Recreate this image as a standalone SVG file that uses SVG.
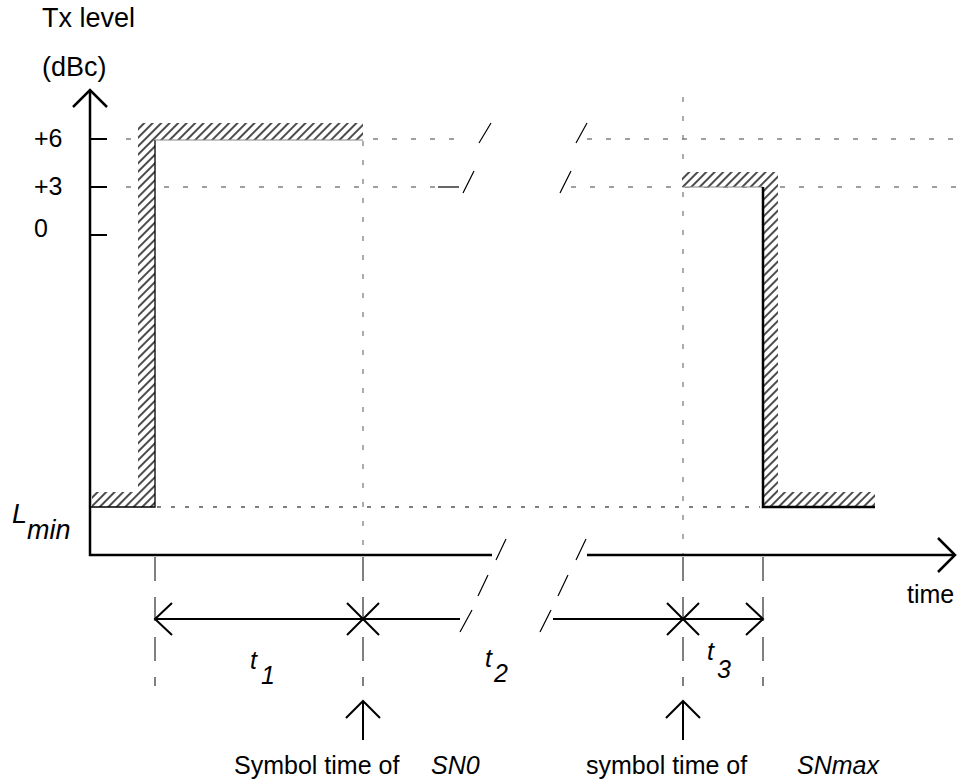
<svg xmlns="http://www.w3.org/2000/svg" width="962" height="782" viewBox="0 0 962 782">
<style>
text{font-family:"Liberation Sans",Arial,Helvetica,sans-serif;fill:#000}
.lbl{font-size:25px}
.big{font-size:27px}
.it{font-style:italic}
.axis{stroke:#000;stroke-width:2.5;fill:none}
.tick{stroke:#000;stroke-width:2;fill:none}
.arr{stroke:#000;stroke-width:2;fill:none}
.slash{stroke:#000;stroke-width:1.2;fill:none}
.guide{stroke:#808080;stroke-width:1.3;stroke-dasharray:5 14;fill:none}
.lmin{stroke:#000;stroke-width:1.1;stroke-dasharray:4 10;fill:none}
.drop{stroke:#000;stroke-width:1;stroke-dasharray:24 16;fill:none}
.edge{stroke:#000;stroke-width:1.3;fill:none}
.edgeg{stroke:#888;stroke-width:1.2;fill:none}
.edgeb{stroke:#000;stroke-width:2.5;fill:none}
</style>
<defs>
<pattern id="hatch" patternUnits="userSpaceOnUse" width="6" height="6" patternTransform="rotate(45)">
<rect width="6" height="6" fill="#fff"/>
<line x1="3" y1="0" x2="3" y2="6" stroke="#000" stroke-width="1.4"/>
</pattern>
</defs>

<g id="guides">
<path class="guide" d="M126,139 H462"/>
<path class="guide" d="M587,139 H962"/>
<path class="guide" d="M126,187 H438"/>
<path class="guide" d="M571,187 H962"/>
<path class="guide" d="M363,141 V555"/>
<path class="guide" d="M683,97 V555"/>
<path class="lmin" d="M157,507 H760"/>
<path class="drop" d="M155,557 V686"/>
<path class="drop" d="M363,557 V686"/>
<path class="drop" d="M683,557 V686"/>
<path class="drop" d="M763,557 V686"/>
<path class="slash" d="M438,187 H459"/>
<path class="slash" d="M479,143 L491,123 M576,143 L587,123 M463,193 L474,171 M560,193 L571,171"/>
</g>

<g id="mask-start">
<path d="M138,123 H363 V140 H155 V507 H92 V492 H138 Z" fill="url(#hatch)"/>
<path class="edge" d="M90,507 H155 V140"/>
<path class="edgeg" d="M155,140 H363"/>
</g>

<g id="mask-end">
<path d="M682,172 H778 V492 H875 V507 H763 V187 H682 Z" fill="url(#hatch)"/>
<path class="edgeg" d="M682,187 H763"/>
<path class="edgeb" d="M763,187 V507 H875"/>
</g>

<g id="axes">
<path class="axis" d="M90,90 V555 H492"/>
<path class="axis" d="M587,555 H955"/>
<path class="axis" d="M73,107 L90,90 L107,107"/>
<path class="axis" d="M938,538 L955,555 L938,572"/>
<path class="tick" d="M90,139 H107 M90,187 H107 M90,235 H107"/>
<path class="slash" d="M496,560 L506,539 M576,560 L586,539"/>
</g>

<g id="connectors">
<path class="arr" d="M155,619 H460"/>
<path class="arr" d="M553,619 H763"/>
<path class="arr" d="M172,603 L155,619 L172,635"/>
<path class="arr" d="M746,603 L763,619 L746,635"/>
<path class="arr" d="M347,603 L379,635 M379,603 L347,635"/>
<path class="arr" d="M667,603 L699,635 M699,603 L667,635"/>
<path class="slash" d="M460,632 L472,610 M540,632 L551,610"/>
<path class="slash" d="M478,596 L488,575 M558,596 L568,575"/>
<path class="arr" d="M363,701 V740 M346,718 L363,701 L380,718"/>
<path class="arr" d="M683,701 V740 M666,718 L683,701 L700,718"/>
</g>

<g id="labels">
<text class="big" x="42" y="27">Tx level</text>
<text class="big" x="42" y="76">(dBc)</text>
<text class="lbl" x="34" y="147">+6</text>
<text class="lbl" x="34" y="195">+3</text>
<text class="lbl" x="34" y="237">0</text>
<text class="big it" x="12" y="523">L</text>
<text class="big it" x="27" y="539">min</text>
<text class="lbl" x="907" y="603">time</text>
<text class="lbl it" x="250" y="669">t</text>
<text class="lbl it" x="261" y="684">1</text>
<text class="lbl it" x="485" y="667">t</text>
<text class="lbl it" x="494" y="682">2</text>
<text class="lbl it" x="707" y="660">t</text>
<text class="lbl it" x="717" y="678">3</text>
<text class="lbl" x="234" y="774">Symbol time of</text>
<text class="lbl it" x="431" y="774">SN0</text>
<text class="lbl" x="586" y="774">symbol time of</text>
<text class="lbl it" x="797" y="774">SNmax</text>
</g>
</svg>
